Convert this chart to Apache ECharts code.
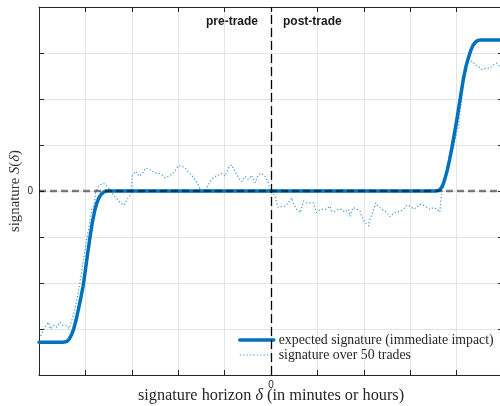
<!DOCTYPE html>
<html>
<head>
<meta charset="utf-8">
<script src="https://cdn.jsdelivr.net/npm/echarts@6/dist/echarts.min.js"></script>
<style>html,body{margin:0;padding:0;background:#fff;}#c{width:500px;height:406px;}</style>
</head>
<body>
<div id="c"></div>
<script>
// ---- data ----
var seriesNames = ['expected signature (immediate impact)', 'signature over 50 trades'];
var phaseLabels = ['pre-trade', 'post-trade'];
var xTickLabels = ['0'];
var yTickLabels = ['0'];

var expectedX = [-5, -4.50, -4.45, -4.40, -4.35, -4.30, -4.25, -4.20, -4.15, -4.10, -4.05, -4.00, -3.95, -3.90,
                 -3.85, -3.80, -3.75, -3.70, -3.65, -3.60, -3.55,
                 3.55, 3.60, 3.65, 3.70, 3.75, 3.80, 3.85, 3.90, 3.95, 4.00, 4.05, 4.10, 4.15, 4.20, 4.25,
                 4.30, 4.35, 4.40, 4.45, 4.50, 5];
var expectedY = [-3.29, -3.29, -3.285, -3.27, -3.22, -3.13, -2.99, -2.80, -2.57, -2.33, -2.07, -1.72, -1.35, -1.00,
                 -0.68, -0.43, -0.25, -0.13, -0.06, -0.02, 0,
                 0, 0.01, 0.04, 0.12, 0.27, 0.46, 0.69, 0.95, 1.23, 1.52, 1.83, 2.15, 2.46, 2.70, 2.88,
                 3.04, 3.16, 3.23, 3.27, 3.28, 3.28];

var tradesX = [-4.96, -4.87, -4.80, -4.75, -4.68, -4.62, -4.55, -4.48, -4.40, -4.35, -4.27, -4.18, -4.09, -4.01,
  -3.92, -3.86, -3.81, -3.78, -3.72, -3.67, -3.60, -3.53, -3.45, -3.38, -3.31, -3.24, -3.17, -3.10, -3.02,
  -2.99, -2.92, -2.84, -2.77, -2.70, -2.63, -2.56, -2.50, -2.43, -2.36, -2.28, -2.21, -2.14, -2.07, -2.00,
  -1.92, -1.85, -1.78, -1.71, -1.64, -1.57, -1.49, -1.42, -1.35, -1.28, -1.21, -1.14, -1.06, -0.99, -0.92,
  -0.85, -0.78, -0.70, -0.63, -0.56, -0.49, -0.42, -0.34, -0.27, -0.20, -0.13, -0.06, -0.02, 0.02, 0.09,
  0.12, 0.16, 0.23, 0.30, 0.37, 0.45, 0.48, 0.55, 0.63, 0.70, 0.77, 0.84, 0.91, 0.98, 1.06, 1.13, 1.20,
  1.27, 1.31, 1.38, 1.45, 1.52, 1.59, 1.67, 1.70, 1.77, 1.85, 1.92, 1.98, 2.03, 2.10, 2.13, 2.20, 2.26,
  2.31, 2.39, 2.46, 2.53, 2.56, 2.64, 2.71, 2.78, 2.85, 2.92, 3.00, 3.07, 3.14, 3.21, 3.28, 3.36, 3.43,
  3.50, 3.57, 3.64, 3.66, 3.70, 3.75, 3.79, 3.86, 3.95, 4.04, 4.07, 4.11, 4.14, 4.18, 4.22, 4.25, 4.29,
  4.35, 4.40, 4.47, 4.54, 4.58, 4.65, 4.72, 4.79, 4.86, 4.92, 5.00];
var tradesY = [-3.15, -2.96, -2.85, -3.00, -2.92, -2.96, -2.85, -2.92, -2.93, -2.99, -2.74, -2.35, -1.83, -1.27,
  -0.75, -0.40, -0.29, -0.03, 0.10, 0.14, 0.16, 0.10, 0.00, -0.11, -0.18, -0.26, -0.31, -0.18, -0.08,
  0.32, 0.43, 0.32, 0.39, 0.50, 0.47, 0.43, 0.39, 0.39, 0.36, 0.29, 0.32, 0.36, 0.43, 0.55,
  0.54, 0.50, 0.41, 0.34, 0.25, 0.14, -0.04, 0.02, 0.14, 0.25, 0.31, 0.34, 0.38, 0.32, 0.50,
  0.57, 0.43, 0.29, 0.21, 0.32, 0.25, 0.34, 0.18, 0.36, 0.38, 0.32, 0.18, 0.00, 0.00, -0.11,
  -0.26, -0.36, -0.34, -0.33, -0.26, -0.15, -0.26, -0.40, -0.47, -0.22, -0.26, -0.26, -0.26, -0.47, -0.40, -0.40, -0.39,
  -0.33, -0.44, -0.44, -0.40, -0.40, -0.46, -0.40, -0.55, -0.36, -0.39, -0.44, -0.62, -0.69, -0.76, -0.62, -0.44, -0.26,
  -0.33, -0.40, -0.44, -0.51, -0.56, -0.49, -0.46, -0.44, -0.40, -0.31, -0.33, -0.39, -0.36, -0.29, -0.31, -0.36, -0.40,
  -0.36, -0.39, -0.46, -0.18, 0.03, 0.25, 0.39, 0.68, 1.05, 1.41, 1.70, 1.98, 2.27, 2.49, 2.71, 2.82, 2.85,
  2.82, 2.74, 2.71, 2.64, 2.60, 2.67, 2.67, 2.74, 2.78, 2.72, 2.76];

function pairs(xs, ys) { return xs.map(function (x, i) { return [x, ys[i]]; }); }

var serif = '"Liberation Serif", "DejaVu Serif", serif';
var sans = '"Liberation Sans", Arial, sans-serif';
var axisColor = '#262626';
var gridColor = '#e4e4e4';
var solidColor = '#0072BD';
var dotColor = '#3b93db';

function showOnly(labels) {
  return function (v) { var s = String(Math.round(v * 1000) / 1000); return labels.indexOf(s) >= 0 ? s : ''; };
}
function richName(size, color) {
  return {
    fontFamily: serif, fontSize: size, lineHeight: size + 2, color: color, verticalAlign: 'middle',
    rich: {
      n: { fontFamily: serif, fontSize: size, lineHeight: size + 2, color: color },
      i: { fontFamily: serif, fontSize: size, lineHeight: size + 2, fontStyle: 'italic', color: color }
    }
  };
}

var chart = echarts.init(document.getElementById('c'), null, { renderer: 'canvas' });
chart.setOption({
  animation: false,
  backgroundColor: '#ffffff',
  grid: { left: 39, top: 7, width: 464, height: 368, outerBoundsMode: 'none', containLabel: false },
  legend: {
    orient: 'vertical', left: 238, top: 333, padding: 0, itemWidth: 34, itemHeight: 14, itemGap: 1,
    data: [
      { name: seriesNames[0], lineStyle: { width: 3.5, color: solidColor } },
      { name: seriesNames[1], lineStyle: { width: 1.2, color: dotColor, type: [1.2, 2.2] } }
    ],
    itemStyle: { opacity: 0 },
    textStyle: { fontFamily: serif, fontSize: 13.8, color: '#262626' }
  },
  xAxis: [{
    type: 'value', min: -5, max: 5, interval: 1, position: 'bottom',
    name: '{n|signature horizon }{i|δ}{n| (in minutes or hours)}',
    nameLocation: 'middle', nameGap: 21, nameMoveOverlap: false,
    nameTextStyle: richName(16.3, '#262626'),
    axisLine: { show: true, onZero: false, lineStyle: { color: axisColor, width: 1 } },
    axisTick: { show: true, inside: true, length: 5, lineStyle: { color: axisColor } },
    axisLabel: { formatter: showOnly(xTickLabels), fontFamily: sans, fontSize: 10, color: axisColor, margin: 5 },
    splitLine: { show: true, lineStyle: { color: gridColor, width: 1 } }
  }, {
    type: 'value', min: -5, max: 5, interval: 1, position: 'top',
    axisLine: { show: true, onZero: false, lineStyle: { color: axisColor, width: 1 } },
    axisTick: { show: true, inside: true, length: 5, lineStyle: { color: axisColor } },
    axisLabel: { show: false }, splitLine: { show: false }
  }],
  yAxis: [{
    type: 'value', min: -4, max: 4, interval: 1, position: 'left',
    name: '{n|signature }{i|S}{n|(}{i|δ}{n|)}',
    nameLocation: 'middle', nameGap: 23.5, nameRotate: 90, nameMoveOverlap: false,
    nameTextStyle: richName(14.8, '#333333'),
    axisLine: { show: true, onZero: false, lineStyle: { color: axisColor, width: 1 } },
    axisTick: { show: true, inside: true, length: 5, lineStyle: { color: axisColor } },
    axisLabel: { formatter: showOnly(yTickLabels), fontFamily: sans, fontSize: 10, color: axisColor, margin: 6 },
    splitLine: { show: true, lineStyle: { color: gridColor, width: 1 } }
  }, {
    type: 'value', min: -4, max: 4, interval: 1, position: 'right',
    axisLine: { show: true, onZero: false, lineStyle: { color: axisColor, width: 1 } },
    axisTick: { show: true, inside: true, length: 5, lineStyle: { color: axisColor } },
    axisLabel: { show: false }, splitLine: { show: false }
  }],
  series: [{
    name: seriesNames[1], type: 'line', symbol: 'none', z: 3,
    data: pairs(tradesX, tradesY),
    lineStyle: { color: dotColor, width: 1.2, type: [1.2, 2.2] },
    itemStyle: { color: dotColor }
  }, {
    name: seriesNames[0], type: 'line', symbol: 'none', z: 4,
    data: pairs(expectedX, expectedY),
    lineStyle: { color: solidColor, width: 3.5, join: 'round', cap: 'round' },
    itemStyle: { color: solidColor }
  }, {
    name: 'refs', type: 'line', data: [], z: 10, silent: true,
    markLine: {
      silent: true, symbol: ['none', 'none'], animation: false,
      label: { show: false },
      data: [
        { yAxis: 0, lineStyle: { color: 'rgba(0,0,0,0.5)', width: 2.3, type: [7, 4] } },
        { xAxis: 0, lineStyle: { color: '#000000', width: 1.3, type: [9, 4] } }
      ]
    },
    markPoint: {
      symbol: 'circle', symbolSize: 0, silent: true,
      data: [
        { coord: [0, 3.68], label: { show: true, formatter: phaseLabels[0], position: 'left', distance: 13,
          fontFamily: sans, fontWeight: 'bold', fontSize: 12, color: '#1a1a1a' } },
        { coord: [0, 3.68], label: { show: true, formatter: phaseLabels[1], position: 'right', distance: 12,
          fontFamily: sans, fontWeight: 'bold', fontSize: 12, color: '#1a1a1a' } }
      ]
    }
  }]
});
</script>
</body>
</html>
